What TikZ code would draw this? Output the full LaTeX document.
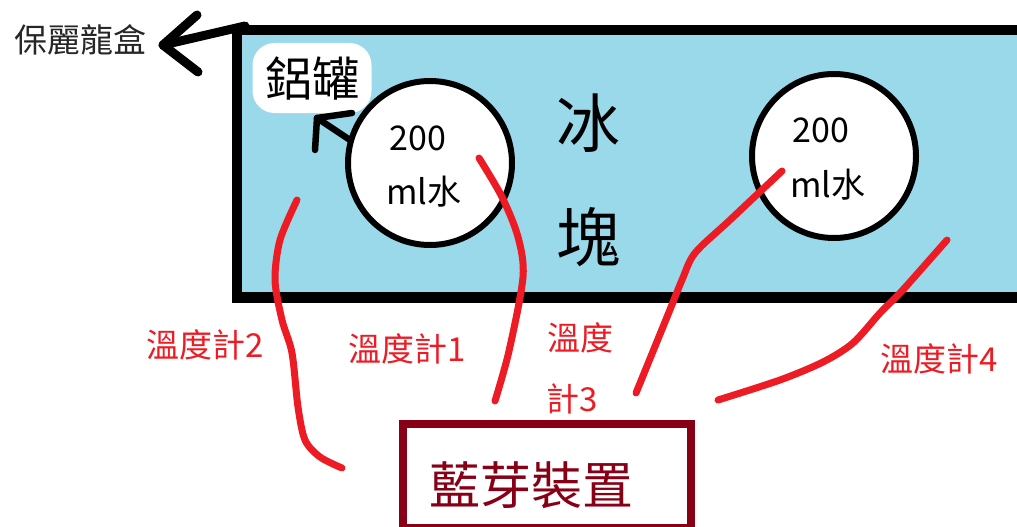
\documentclass[tikz,border=0pt]{standalone}
\usepackage{fontspec}
\setmainfont{Noto Sans CJK TC}
\definecolor{ice}{HTML}{99D9EA}
\definecolor{pen}{HTML}{ED1C24}
\definecolor{boxred}{HTML}{880015}
\begin{document}
\begin{tikzpicture}[x=1pt,y=-1pt,
  redwire/.style={pen, line width=7, line cap=round, line join=round},
  blackpen/.style={black, line width=9, line cap=round, line join=round},
  redlabel/.style={pen, inner sep=0, font=\fontsize{33}{37}\selectfont},
  can/.style={circle, draw=black, fill=white, line width=6, minimum size=164, inner sep=0},
  cantext/.style={inner sep=0, font=\fontsize{34}{38}\selectfont}]
\useasboundingbox (0,0) rectangle (1017,527);
\fill[white] (0,0) rectangle (1017,527);
\begin{scope}
\clip (0,0) rectangle (1017,527);
% cooler box
\node[draw=black, line width=10.5, fill=ice, minimum width=788, minimum height=267.5,
      anchor=north west, inner sep=0, outer sep=0] (cooler) at (237,30) {};
\coordinate (corner) at (245,26);
% bluetooth box
\node[draw=boxred, line width=7.5, minimum width=288, minimum height=104,
      anchor=north west, inner sep=0, outer sep=0] (bt) at (403,424) {};
\end{scope}
\node[boxred, inner sep=0, font=\fontsize{51}{56}\selectfont] (bttext) at (531,485) {藍芽裝置};

% label styrofoam box
\node[inner sep=0, text=black!85, font=\fontsize{33}{38}\selectfont] (foam) at (80,40) {保麗龍盒};
\coordinate (foamtip) at (163,45);
\coordinate (foamh1) at (197,15);
\coordinate (foamh2) at (198,72);
\draw[blackpen] (corner) -- (foamtip);
\draw[blackpen] (foamh1) -- (foamtip) -- (foamh2);

% aluminium can label
\node[fill=white, rounded corners=22, minimum width=119, minimum height=70, inner sep=0,
      font=\fontsize{47}{52}\selectfont] (alu) at (312,78) {鋁罐};

% cans
\node[can] (can1) at (430,163) {};
\node[can] (can2) at (834,156) {};
\node[cantext] (c1a) at (418,138) {200};
\node[cantext] (c1b) at (424,192) {ml水};
\node[cantext] (c2a) at (821,130) {200};
\node[cantext] (c2b) at (828,185) {ml水};

% arrow can -> alu label
\coordinate (alutip) at (317,118);
\coordinate (aluh1) at (352,113);
\coordinate (aluh2) at (315,150);
\coordinate (alufrom) at (350,140);
\draw[black, line width=6.5, line cap=round, line join=round] (alufrom) -- (alutip);
\draw[black, line width=6.5, line cap=round, line join=round] (aluh1) -- (alutip) -- (aluh2);

% ice text
\node[inner sep=0, font=\fontsize{64}{70}\selectfont] (ice1) at (588,123) {冰};
\node[inner sep=0, font=\fontsize{64}{70}\selectfont] (ice2) at (588,237) {塊};

% thermometer wires
\draw[redwire] plot[smooth] coordinates {(479,158) (502,197) (518,237) (523,277) (509,351) (495,401)};
\draw[redwire] plot[smooth] coordinates {(297,200) (280,240) (275,280) (282,320) (292,353) (298,407) (305,440) (320,457) (342,468)};
\draw[redwire] plot[smooth] coordinates {(782,171) (730,220) (695,253) (682,280) (667,317) (636,393)};
\draw[redwire] plot[smooth] coordinates {(947,240) (925,265) (900,293) (880,313) (853,343) (823,362) (780,380) (718,400)};

% thermometer labels
\node[redlabel] (t2) at (205,345) {溫度計2};
\node[redlabel] (t1) at (407,349) {溫度計1};
\node[redlabel] (t3a) at (580,338) {溫度};
\node[redlabel] (t3b) at (572,399) {計3};
\node[redlabel] (t4) at (939,359) {溫度計4};
\end{tikzpicture}
\end{document}
